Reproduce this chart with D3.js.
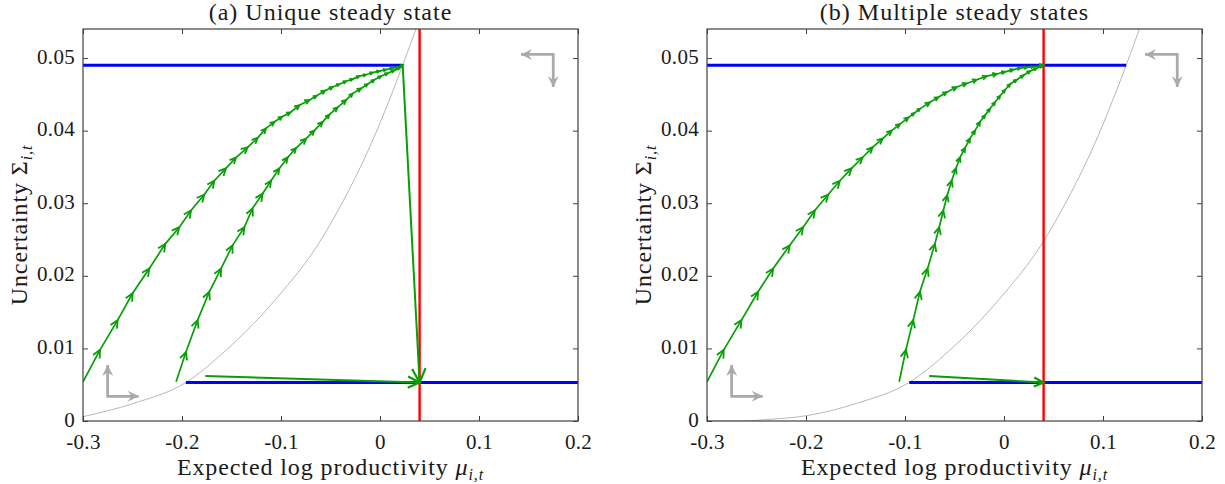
<!DOCTYPE html>
<html>
<head>
<meta charset="utf-8">
<script src="https://cdn.jsdelivr.net/npm/d3@7"></script>
<style>
  body { margin: 0; background: #fff; }
  svg { display: block; }
  text { font-family: "Liberation Serif", "Times New Roman", Times, serif; fill: #1a1a1a; }
</style>
</head>
<body>
<svg id="chart" width="1225" height="484"></svg>
<script>
// ---- values ----
const xTicks = [-0.3, -0.2, -0.1, 0, 0.1, 0.2]
const yTicks = [0, 0.01, 0.02, 0.03, 0.04, 0.05]
const titles = ['(a) Unique steady state', '(b) Multiple steady states']
const redX = 0.04

// grey threshold curve
const aCurve = [[-0.3, 0.0006], [-0.2495, 0.0024], [-0.1962, 0.0053], [-0.1551, 0.0098], [-0.1045, 0.0169],
  [-0.0608, 0.0247], [-0.0388, 0.0299], [-0.0135, 0.0368], [0.0229, 0.049], [0.0363, 0.054]]
const bCurve = [[-0.3, 0], [-0.2636, 0], [-0.24, 0.0002], [-0.1995, 0.00073], [-0.149, 0.00243], [-0.0957, 0.00532],
  [-0.0546, 0.00977], [-0.004, 0.0169], [0.0397, 0.0247], [0.0617, 0.0299], [0.087, 0.0368], [0.1234, 0.049], [0.1368, 0.054]]

// blue steady-state lines
const aHigh = [[-0.3, 0.049], [0.0229, 0.049]]
const aLow = [[-0.1962, 0.0053], [0.2, 0.0053]]
const bHigh = [[-0.3, 0.049], [0.1234, 0.049]]
const bLow = [[-0.0957, 0.0053], [0.2, 0.0053]]

// green transition paths (one arrow per step)
const aPath1 = [[-0.3, 0.0054], [-0.2828, 0.0098], [-0.265, 0.0139], [-0.2499, 0.0176], [-0.233, 0.021], [-0.2169, 0.0244],
  [-0.2027, 0.0267], [-0.1909, 0.029], [-0.1775, 0.0312], [-0.1674, 0.0331], [-0.1556, 0.0348], [-0.1455, 0.0363],
  [-0.1337, 0.0377], [-0.1236, 0.039], [-0.1152, 0.0403], [-0.1068, 0.0412], [-0.099, 0.0419], [-0.0906, 0.0425],
  [-0.0815, 0.0435], [-0.0714, 0.0442], [-0.064, 0.0448], [-0.0556, 0.0455], [-0.0479, 0.046], [-0.0411, 0.0464],
  [-0.0343, 0.0468], [-0.0277, 0.0471], [-0.021, 0.0475], [-0.0143, 0.0477], [-0.0075, 0.048], [-0.0007, 0.0482],
  [0.006, 0.0484], [0.0127, 0.0486], [0.0178, 0.0487], [0.0229, 0.049]]
const aPath2 = [[-0.206, 0.0054], [-0.196, 0.0095], [-0.1842, 0.0139], [-0.1724, 0.0178], [-0.1606, 0.021], [-0.1489, 0.0242],
  [-0.137, 0.0267], [-0.1287, 0.0293], [-0.1186, 0.0313], [-0.1101, 0.0331], [-0.1017, 0.0348], [-0.0933, 0.0363],
  [-0.0848, 0.0376], [-0.0747, 0.0389], [-0.0664, 0.04], [-0.058, 0.0412], [-0.0512, 0.0422], [-0.0428, 0.0432],
  [-0.0343, 0.0442], [-0.0277, 0.0451], [-0.0192, 0.0458], [-0.0125, 0.0464], [-0.0058, 0.047], [0.001, 0.0475],
  [0.0077, 0.0479], [0.0144, 0.0483], [0.0195, 0.0486], [0.0229, 0.049]]
const bPath1 = [[-0.3, 0.0054], [-0.2831, 0.0098], [-0.2652, 0.0139], [-0.2484, 0.0178], [-0.2332, 0.021], [-0.2164, 0.0242],
  [-0.2029, 0.0267], [-0.1911, 0.029], [-0.1776, 0.0312], [-0.1658, 0.0331], [-0.154, 0.0348], [-0.1429, 0.0363],
  [-0.1328, 0.0377], [-0.1226, 0.0389], [-0.1135, 0.04], [-0.1052, 0.0409], [-0.0967, 0.0418], [-0.0908, 0.0424],
  [-0.0849, 0.043], [-0.0748, 0.0439], [-0.0664, 0.0446], [-0.0579, 0.0453], [-0.0478, 0.046], [-0.0377, 0.0465],
  [-0.0276, 0.047], [-0.0175, 0.0475], [-0.0074, 0.0478], [0.001, 0.0481], [0.0094, 0.0484], [0.0162, 0.0486],
  [0.023, 0.0487], [0.0296, 0.0488], [0.04, 0.049]]
const bPath2 = [[-0.1059, 0.0054], [-0.0991, 0.0098], [-0.0917, 0.0139], [-0.0849, 0.0178], [-0.0772, 0.021], [-0.0698, 0.0244],
  [-0.0654, 0.0267], [-0.0613, 0.029], [-0.0573, 0.0311], [-0.0529, 0.0331], [-0.0485, 0.0348], [-0.0445, 0.0363],
  [-0.0394, 0.0376], [-0.0344, 0.0389], [-0.0293, 0.04], [-0.0243, 0.0412], [-0.0192, 0.0421], [-0.0142, 0.043],
  [-0.0091, 0.0439], [-0.004, 0.0448], [0.001, 0.0456], [0.0061, 0.0464], [0.0128, 0.047], [0.0195, 0.0476],
  [0.0263, 0.0482], [0.0331, 0.0486], [0.04, 0.049]]

// single big green jumps
const aJumps = [[[0.0229, 0.049], [0.04, 0.0053]], [[-0.1765, 0.0062], [0.04, 0.0053]]]
const bJumps = [[[-0.0755, 0.0062], [0.04, 0.0053]]]

// grey direction hints
const guideLow = [[-0.2751, 0.0077], [-0.2751, 0.0034], [-0.2438, 0.0034]]
const guideHigh = [[0.1425, 0.0505], [0.175, 0.0505], [0.175, 0.046]]

// ---- layout ----
const plotTop = 29, plotBottom = 421, plotW = 495
const GREEN = '#069f06', BLUE = '#0000ff', RED = '#ff0000', GREY = '#aaaaaa', AXIS = '#404040'
const SERIF = '"Liberation Serif", "Times New Roman", Times, serif'

const panels = [
  {id: 'a', left: 83, title: titles[0], curve: aCurve, high: aHigh, low: aLow, paths: [aPath1, aPath2], jumps: aJumps},
  {id: 'b', left: 707, title: titles[1], curve: bCurve, high: bHigh, low: bLow, paths: [bPath1, bPath2], jumps: bJumps}
]

const svg = d3.select('#chart')

// open chevron head like matlab quiver
const chevron = (p0, p1) => {
  const dx = p1[0] - p0[0], dy = p1[1] - p0[1]
  const L = Math.hypot(dx, dy)
  if (L < 0.01) return ''
  const h = Math.min(0.42 * L, 7 + 0.022 * L)
  const w = 0.48 * h
  const ux = dx / L, uy = dy / L
  const bx = p1[0] - ux * h, by = p1[1] - uy * h
  return `M${bx - uy * w},${by + ux * w}L${p1[0]},${p1[1]}L${bx + uy * w},${by - ux * w}`
}

// filled notched head for the grey hints
const solidHead = (p0, p1) => {
  const dx = p1[0] - p0[0], dy = p1[1] - p0[1]
  const L = Math.hypot(dx, dy)
  const ux = dx / L, uy = dy / L
  const h = 11, w = 5.5
  const bx = p1[0] - ux * h, by = p1[1] - uy * h
  const nx = p1[0] - ux * h * 0.65, ny = p1[1] - uy * h * 0.65
  return `M${p1[0]},${p1[1]}L${bx - uy * w},${by + ux * w}L${nx},${ny}L${bx + uy * w},${by - ux * w}Z`
}

const drawPanel = (p) => {
  const x = d3.scaleLinear().domain([-0.3, 0.2]).range([p.left, p.left + plotW])
  const y = d3.scaleLinear().domain([0, 0.054]).range([plotBottom, plotTop])
  const g = svg.append('g')
  const pt = d => [x(d[0]), y(d[1])]

  g.append('clipPath').attr('id', 'clip-' + p.id)
    .append('rect').attr('x', p.left).attr('y', plotTop).attr('width', plotW).attr('height', plotBottom - plotTop)
  const plot = g.append('g').attr('clip-path', `url(#clip-${p.id})`)

  const line = d3.line().x(d => x(d[0])).y(d => y(d[1]))
  const smooth = d3.line().x(d => x(d[0])).y(d => y(d[1])).curve(d3.curveMonotoneX)

  // grey curve
  plot.append('path').datum(p.curve).attr('d', smooth)
    .attr('fill', 'none').attr('stroke', '#b8b8b8').attr('stroke-width', 1)

  // grey hints
  ;[guideLow, guideHigh].forEach(gd => {
    const a = pt(gd[0]), c = pt(gd[1]), b = pt(gd[2])
    plot.append('path').datum(gd).attr('d', line)
      .attr('fill', 'none').attr('stroke', GREY).attr('stroke-width', 2.8)
    plot.append('path').attr('d', solidHead(c, a)).attr('fill', GREY)
    plot.append('path').attr('d', solidHead(c, b)).attr('fill', GREY)
  })

  // blue lines
  ;[p.high, p.low].forEach(l => {
    plot.append('path').datum(l).attr('d', line)
      .attr('stroke', BLUE).attr('stroke-width', 3).attr('fill', 'none')
  })

  // red vertical
  plot.append('line')
    .attr('x1', x(redX)).attr('x2', x(redX)).attr('y1', y(0)).attr('y2', y(0.054))
    .attr('stroke', RED).attr('stroke-width', 2.4)

  // green paths
  p.paths.forEach(path => {
    plot.append('path').datum(path).attr('d', line)
      .attr('fill', 'none').attr('stroke', GREEN).attr('stroke-width', 1.7)
    const heads = d3.pairs(path).map(([a, b]) => chevron(pt(a), pt(b))).join('')
    plot.append('path').attr('d', heads)
      .attr('fill', 'none').attr('stroke', GREEN).attr('stroke-width', 1.8)
  })
  p.jumps.forEach(j => {
    plot.append('path').datum(j).attr('d', line)
      .attr('fill', 'none').attr('stroke', GREEN).attr('stroke-width', 2)
    plot.append('path').attr('d', chevron(pt(j[0]), pt(j[1])))
      .attr('fill', 'none').attr('stroke', GREEN).attr('stroke-width', 2.2)
  })

  // axes, ticks inside on all four sides
  const fmt = d => String(d)
  const style = sel => {
    sel.attr('font-family', SERIF)
    sel.select('.domain').remove()
    sel.selectAll('line').attr('stroke', AXIS).attr('stroke-width', 1)
    sel.selectAll('text').style('font-family', SERIF).style('font-size', '21px')
      .style('letter-spacing', '0.3px').attr('fill', '#1a1a1a')
  }
  g.append('g').attr('transform', `translate(0,${plotBottom})`)
    .call(d3.axisBottom(x).tickValues(xTicks).tickFormat(fmt).tickSize(-5).tickPadding(13)).call(style)
  g.append('g').attr('transform', `translate(0,${plotTop})`)
    .call(d3.axisTop(x).tickValues(xTicks).tickFormat('').tickSize(-5)).call(style)
  g.append('g').attr('transform', `translate(${p.left},0)`)
    .call(d3.axisLeft(y).tickValues(yTicks).tickFormat(fmt).tickSize(-5).tickPadding(8)).call(style)
    .selectAll('text').attr('dy', '0.24em')
  g.append('g').attr('transform', `translate(${p.left + plotW},0)`)
    .call(d3.axisRight(y).tickValues(yTicks).tickFormat('').tickSize(-5)).call(style)

  g.append('rect').attr('x', p.left).attr('y', plotTop).attr('width', plotW).attr('height', plotBottom - plotTop)
    .attr('fill', 'none').attr('stroke', AXIS).attr('stroke-width', 1.2)

  // title
  g.append('text').attr('x', p.left + plotW / 2).attr('y', 20)
    .attr('text-anchor', 'middle').style('font-size', '24px').style('letter-spacing', '1px')
    .text(p.title)

  // x label
  const xl = g.append('text').attr('x', p.left + plotW / 2).attr('y', 475)
    .attr('text-anchor', 'middle').style('font-size', '24px').style('letter-spacing', '0.9px')
  xl.append('tspan').text('Expected log productivity ')
  xl.append('tspan').style('font-style', 'italic').text('μ')
  xl.append('tspan').style('font-style', 'italic').style('font-size', '16px').attr('dy', 5).text('i,t')

  // y label
  const yl = g.append('text')
    .attr('transform', `translate(${p.left - 56},${(plotTop + plotBottom) / 2}) rotate(-90)`)
    .attr('text-anchor', 'middle').style('font-size', '24px').style('letter-spacing', '0.9px')
  yl.append('tspan').text('Uncertainty Σ')
  yl.append('tspan').style('font-style', 'italic').style('font-size', '16px').attr('dy', 5).text('i,t')
}

panels.forEach(drawPanel)
</script>
</body>
</html>
